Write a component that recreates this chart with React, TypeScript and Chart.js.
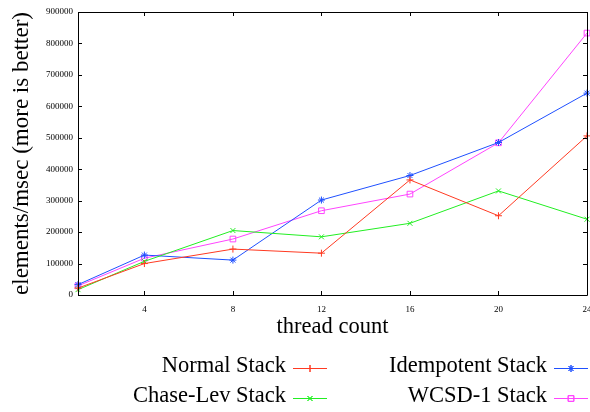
import React, { useEffect, useRef } from "react";
import { Chart, registerables } from "chart.js";
import { drawPoint } from "chart.js/helpers";

Chart.register(...registerables);

const threads = [1, 4, 8, 12, 16, 20, 24];
const normalStack = [22000, 100000, 146000, 133000, 366000, 252000, 506000];
const chaseLevStack = [17000, 107000, 205000, 185000, 228000, 331000, 241000];
const idempotentStack = [33000, 127000, 111000, 302000, 380000, 485000, 642000];
const wcsdStack = [29000, 117000, 178000, 268000, 321000, 484000, 833000];
const xTicks = [4, 8, 12, 16, 20, 24];
const yMax = 900000;
const yStep = 100000;

const FONT = "'Liberation Serif', 'Times New Roman', serif";

const seriesDefs = [
  { label: "Normal Stack", data: normalStack, color: "#ff3a22", style: "cross", col: 0, row: 0 },
  { label: "Chase-Lev Stack", data: chaseLevStack, color: "#22ee22", style: "crossRot", col: 0, row: 1 },
  { label: "Idempotent Stack", data: idempotentStack, color: "#1f50ff", style: "star", col: 1, row: 0 },
  { label: "WCSD-1 Stack", data: wcsdStack, color: "#ff44ff", style: "rect", col: 1, row: 1 },
];

const framePlugin = {
  id: "gnuplotFrame",
  afterDraw(chart: any) {
    const { ctx, chartArea } = chart;
    const { left, right, top, bottom } = chartArea;
    const xs = chart.scales.x;
    const ys = chart.scales.y;
    ctx.save();
    ctx.strokeStyle = "#000";
    ctx.lineWidth = 1;
    ctx.beginPath();
    ctx.rect(Math.round(left) + 0.5, Math.round(top) + 0.5, Math.round(right - left), Math.round(bottom - top));
    ctx.stroke();
    const tl = 4;
    ctx.beginPath();
    xs.ticks.forEach((t: any) => {
      const px = Math.round(xs.getPixelForValue(t.value)) + 0.5;
      ctx.moveTo(px, bottom);
      ctx.lineTo(px, bottom - tl);
      ctx.moveTo(px, top);
      ctx.lineTo(px, top + tl);
    });
    ys.ticks.forEach((t: any) => {
      const py = Math.round(ys.getPixelForValue(t.value)) + 0.5;
      ctx.moveTo(left, py);
      ctx.lineTo(left + tl, py);
      ctx.moveTo(right, py);
      ctx.lineTo(right - tl, py);
    });
    ctx.stroke();

    // legend
    ctx.font = `22.5px ${FONT}`;
    ctx.textAlign = "right";
    ctx.textBaseline = "middle";
    const colRight = [286, 547];
    const rowY = [368, 398];
    chart.data.datasets.forEach((ds: any, i: number) => {
      const def = seriesDefs[i];
      const tx = colRight[def.col];
      const ty = rowY[def.row];
      ctx.fillStyle = "#000";
      ctx.fillText(ds.label, tx, ty - 2);
      const x0 = tx + 7;
      const x1 = x0 + 34;
      ctx.strokeStyle = ds.borderColor;
      ctx.lineWidth = 1;
      ctx.beginPath();
      ctx.moveTo(x0, ty + 0.5);
      ctx.lineTo(x1, ty + 0.5);
      ctx.stroke();
      ctx.fillStyle = "rgba(0,0,0,0)";
      drawPoint(ctx, { pointStyle: ds.pointStyle, rotation: 0, radius: ds.pointRadius, borderWidth: 1 }, (x0 + x1) / 2, ty + 0.5);
      ctx.stroke();
    });
    ctx.restore();
  },
};

export default function App() {
  const ref = useRef<HTMLCanvasElement | null>(null);
  useEffect(() => {
    if (!ref.current) return;
    const chart = new Chart(ref.current, {
      type: "line",
      data: {
        datasets: seriesDefs.map((s) => ({
          label: s.label,
          data: threads.map((t, i) => ({ x: t, y: s.data[i] })),
          borderColor: s.color,
          backgroundColor: "rgba(0,0,0,0)",
          borderWidth: 1,
          pointStyle: s.style as any,
          pointRadius: s.style === "rect" ? 4 : 3.5,
          pointBorderColor: s.color,
          pointBackgroundColor: "rgba(0,0,0,0)",
          pointBorderWidth: 1,
          tension: 0,
          fill: false,
          clip: false as any,
        })),
      },
      options: {
        animation: false,
        responsive: false,
        layout: { autoPadding: false, padding: { left: 0, right: 3, top: 12, bottom: 70 } },
        plugins: { legend: { display: false }, tooltip: { enabled: false } },
        scales: {
          x: {
            type: "linear",
            min: 1,
            max: 24,
            grid: { display: false, drawTicks: false },
            border: { display: false },
            afterBuildTicks: (s: any) => {
              s.ticks = xTicks.map((v) => ({ value: v }));
            },
            afterFit: (s: any) => {
              s.height = 47;
              s.paddingLeft = 0;
              s.paddingRight = 0;
            },
            ticks: {
              color: "#000",
              font: { family: FONT, size: 9 },
              padding: 9,
              maxRotation: 0,
              autoSkip: false,
            },
            title: {
              display: true,
              text: "thread count",
              color: "#000",
              font: { family: FONT, size: 22.5 },
              padding: { top: 0, bottom: 1 },
            },
          },
          y: {
            type: "linear",
            min: 0,
            max: yMax,
            grid: { display: false, drawTicks: false },
            border: { display: false },
            afterFit: (s: any) => {
              s.width = 78;
              s.paddingTop = 0;
              s.paddingBottom = 0;
            },
            ticks: {
              stepSize: yStep,
              color: "#000",
              font: { family: FONT, size: 9 },
              padding: 5,
              callback: (v: any) => String(v),
            },
            title: {
              display: true,
              text: "elements/msec (more is better)",
              color: "#000",
              font: { family: FONT, size: 23 },
              padding: { top: 8, bottom: 0 },
            },
          },
        },
      },
      plugins: [framePlugin],
    });
    return () => chart.destroy();
  }, []);
  return (
    <div style={{ position: "absolute", left: 0, top: 0, width: 590, height: 412, background: "#fff" }}>
      <canvas ref={ref} width={590} height={412} />
    </div>
  );
}
